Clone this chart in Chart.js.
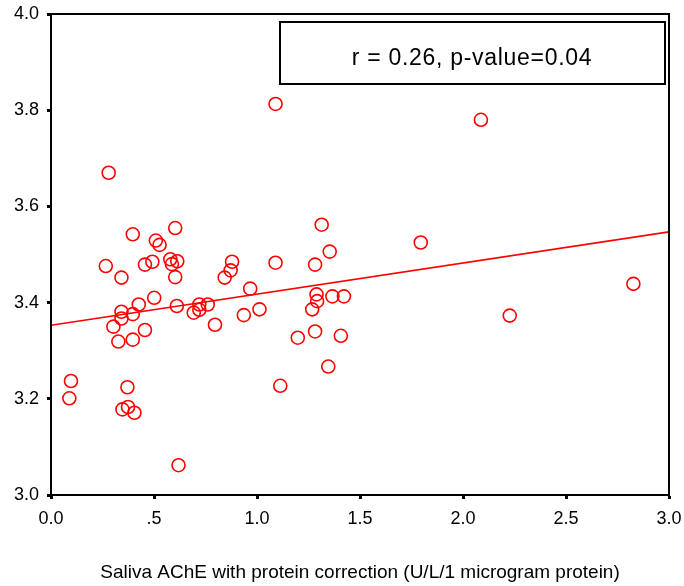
<!DOCTYPE html>
<html>
<head>
<meta charset="utf-8">
<script src="https://cdn.jsdelivr.net/npm/chart.js@4"></script>
<style>
  html, body { margin: 0; padding: 0; background: #fff; }
  #wrap { width: 684px; height: 586px; }
</style>
</head>
<body>
<div id="wrap"><canvas id="scatterChart" width="684" height="586"></canvas></div>
<script>
const salivaAChE = [
  0.280, 0.603, 0.397, 0.509, 0.527, 0.266, 0.342, 0.456, 0.492, 0.579,
  0.587, 0.613, 0.603, 0.879, 0.872, 0.843, 0.501, 0.426, 0.342, 0.397,
  0.342, 0.611, 0.720, 0.761, 0.693, 0.720, 0.303, 0.456, 0.796, 0.327,
  0.397, 0.097, 0.089, 0.371, 0.347, 0.374, 0.405, 0.619, 1.090, 1.314,
  1.353, 1.090, 1.282, 0.967, 1.289, 1.366, 1.422, 1.292, 1.268, 1.012,
  0.936, 1.282, 1.198, 1.407, 1.346, 1.113, 2.087, 1.795, 2.827, 2.227
];
const yValues = [
  3.670, 3.555, 3.542, 3.529, 3.520, 3.476, 3.452, 3.479, 3.485, 3.490,
  3.480, 3.486, 3.453, 3.485, 3.467, 3.452, 3.410, 3.396, 3.381, 3.376,
  3.367, 3.393, 3.396, 3.396, 3.379, 3.385, 3.350, 3.343, 3.354, 3.319,
  3.323, 3.237, 3.201, 3.224, 3.178, 3.183, 3.171, 3.062, 3.813, 3.562,
  3.506, 3.483, 3.479, 3.429, 3.417, 3.413, 3.413, 3.403, 3.386, 3.386,
  3.374, 3.340, 3.327, 3.331, 3.267, 3.227, 3.780, 3.525, 3.439, 3.373
];

// fitted line end points
const fitX = [0, 3.0];
const fitY = [3.353, 3.547];

const xTicks = [0, 0.5, 1.0, 1.5, 2.0, 2.5, 3.0];
const statsText = "r = 0.26, p-value=0.04";
const xTitle = "Saliva AChE with protein correction (U/L/1 microgram protein)";

const FONT = "'Liberation Sans', Arial, sans-serif";

const framePlugin = {
  id: "frame",
  afterDatasetsDraw(chart) {
    const { ctx, chartArea: a } = chart;
    ctx.save();
    ctx.strokeStyle = "#000";
    ctx.lineWidth = 2;
    ctx.strokeRect(a.left, a.top, a.right - a.left, a.bottom - a.top);

    // stats box in the top right corner
    ctx.lineWidth = 2;
    ctx.strokeRect(a.right - 389, a.top + 8, 385, 62);
    ctx.fillStyle = "#000";
    ctx.font = "23px " + FONT;
    ctx.letterSpacing = "0.7px";
    ctx.textAlign = "center";
    ctx.textBaseline = "alphabetic";
    ctx.fillText(statsText, a.right - 197, a.top + 51);
    ctx.restore();
  }
};

function fmtX(v) {
  return v === 0.5 ? ".5" : v.toFixed(1);
}

new Chart(document.getElementById("scatterChart"), {
  type: "scatter",
  data: {
    datasets: [
      {
        label: "AChE",
        data: salivaAChE.map((x, i) => ({ x: x, y: yValues[i] })),
        pointStyle: "circle",
        pointRadius: 6.5,
        pointBorderWidth: 1.6,
        borderColor: "#ff0000",
        backgroundColor: "rgba(0,0,0,0)",
        order: 2
      },
      {
        type: "line",
        label: "Fit",
        data: fitX.map((x, i) => ({ x: x, y: fitY[i] })),
        borderColor: "#ff0000",
        borderWidth: 1.6,
        pointRadius: 0,
        fill: false,
        order: 1
      }
    ]
  },
  options: {
    responsive: false,
    animation: false,
    layout: { padding: { top: 14, right: 15, bottom: 0, left: 0 } },
    plugins: {
      legend: { display: false },
      tooltip: { enabled: false }
    },
    scales: {
      x: {
        type: "linear",
        min: 0,
        max: 3,
        afterBuildTicks(scale) {
          scale.ticks = xTicks.map(v => ({ value: v }));
        },
        afterFit(scale) {
          scale.height = 91;
          scale.paddingLeft = 0;
          scale.paddingRight = 0;
        },
        ticks: {
          callback: fmtX,
          color: "#000",
          font: { family: FONT, size: 18 },
          padding: 9,
          maxRotation: 0
        },
        grid: {
          display: true,
          drawOnChartArea: false,
          drawTicks: true,
          tickLength: 4,
          tickWidth: 3,
          tickColor: "#000"
        },
        border: { display: true, color: "#000", width: 2 },
        title: {
          display: true,
          text: xTitle,
          color: "#000",
          font: { family: FONT, size: 19 },
          padding: { top: 0, bottom: 2 }
        }
      },
      y: {
        type: "linear",
        min: 3.0,
        max: 4.0,
        afterFit(scale) {
          scale.width = 51;
          scale.paddingTop = 0;
          scale.paddingBottom = 0;
        },
        ticks: {
          stepSize: 0.2,
          callback: v => v.toFixed(1),
          color: "#000",
          font: { family: FONT, size: 18 },
          padding: 8
        },
        grid: {
          display: true,
          drawOnChartArea: false,
          drawTicks: true,
          tickLength: 4,
          tickWidth: 3,
          tickColor: "#000"
        },
        border: { display: true, color: "#000", width: 2 }
      }
    }
  },
  plugins: [framePlugin]
});
</script>
</body>
</html>
